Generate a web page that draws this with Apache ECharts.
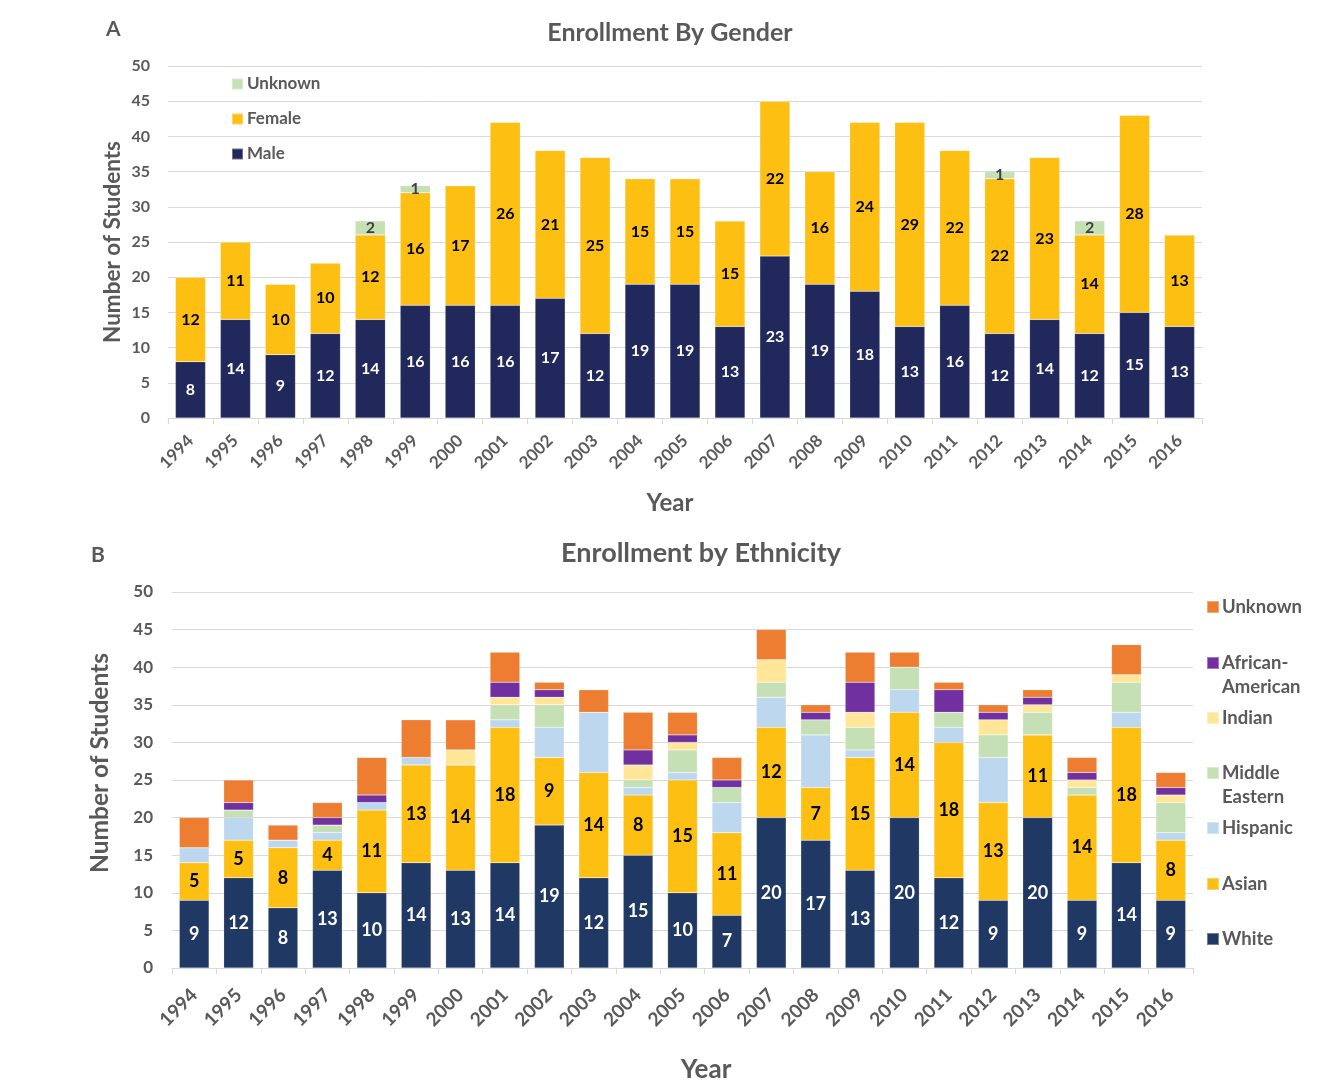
<!DOCTYPE html>
<html>
<head>
<meta charset="utf-8">
<script src="https://cdn.jsdelivr.net/npm/echarts@6/dist/echarts.min.js"></script>
<style>
html,body{margin:0;padding:0;background:#fff;}
#frame{position:absolute;left:7px;top:6px;width:1320px;height:1090px;border-left:2px solid #111;border-top:2px solid #111;}
#chart{position:absolute;left:0;top:0;width:1318px;height:1085px;}
</style>
</head>
<body>
<div id="frame"></div>
<div id="chart"></div>
<script>
// ---------- data ----------
const years = ['1994','1995','1996','1997','1998','1999','2000','2001','2002','2003','2004','2005','2006','2007','2008','2009','2010','2011','2012','2013','2014','2015','2016'];
const yTicks = [0,5,10,15,20,25,30,35,40,45,50];

// Chart A: gender
const male    = [8,14,9,12,14,16,16,16,17,12,19,19,13,23,19,18,13,16,12,14,12,15,13];
const female  = [12,11,10,10,12,16,17,26,21,25,15,15,15,22,16,24,29,22,22,23,14,28,13];
const unknownA= [0,0,0,0,2,1,0,0,0,0,0,0,0,0,0,0,0,0,1,0,2,0,0];

// Chart B: ethnicity
const white    = [9,12,8,13,10,14,13,14,19,12,15,10,7,20,17,13,20,12,9,20,9,14,9];
const asian    = [5,5,8,4,11,13,14,18,9,14,8,15,11,12,7,15,14,18,13,11,14,18,8];
const hispanic = [2,3,1,1,1,1,0,1,4,8,1,1,4,4,7,1,3,2,6,0,0,2,1];
const middleEastern = [0,1,0,1,0,0,0,2,3,0,1,3,2,2,2,3,3,2,3,3,1,4,4];
const indian   = [0,0,0,0,0,0,2,1,1,0,2,1,0,3,0,2,0,0,2,1,1,1,1];
const africanAmerican = [0,1,0,1,1,0,0,2,1,0,2,1,1,0,1,4,0,3,1,1,1,0,1];
const unknownB = [4,3,2,2,5,5,4,4,1,3,5,3,3,4,1,4,2,1,1,1,2,4,2];

// ---------- styling ----------
const FONT = 'Lato, "Open Sans", sans-serif';
const GRAY = '#595959';
const GRID_LINE = '#D9D9D9';

const hideZero = p => (p.value ? String(p.value) : '');

function barSeries(name, data, color, stack, xi, labelColor, labelSize, showLabel) {
  return {
    name: name, type: 'bar', stack: stack, data: data,
    xAxisIndex: xi, yAxisIndex: xi,
    barCategoryGap: '33%',
    itemStyle: { color: color, borderColor: 'rgba(255,255,255,0.35)', borderWidth: 0.5 },
    label: {
      show: showLabel, position: 'inside', formatter: hideZero,
      color: labelColor, fontFamily: FONT, fontWeight: 'bold', fontSize: labelSize
    },
    emphasis: { disabled: true }
  };
}

function xAxisDef(gi, fontSize, margin, nameGap, nameSize, namePad) {
  return {
    type: 'category', gridIndex: gi, data: years,
    axisLine: { show: true, lineStyle: { color: GRID_LINE, width: 1 } },
    axisTick: { show: true, length: 6, lineStyle: { color: GRID_LINE } },
    axisLabel: { rotate: 45, color: GRAY, fontFamily: FONT, fontWeight: 'bold', fontSize: fontSize, margin: margin },
    name: 'Year', nameLocation: 'middle', nameGap: nameGap, nameMoveOverlap: false,
    nameTextStyle: { color: GRAY, fontFamily: FONT, fontWeight: 'bold', fontSize: nameSize, padding: namePad }
  };
}
function yAxisDef(gi, fontSize, margin, nameGap, nameSize, namePad) {
  return {
    type: 'value', gridIndex: gi, min: yTicks[0], max: yTicks[yTicks.length - 1], interval: yTicks[1] - yTicks[0],
    axisLine: { show: false }, axisTick: { show: false },
    splitLine: { lineStyle: { color: GRID_LINE, width: 1 } },
    axisLabel: { color: GRAY, fontFamily: FONT, fontWeight: 'bold', fontSize: fontSize, margin: margin },
    name: 'Number of Students', nameLocation: 'middle', nameGap: nameGap, nameRotate: 90, nameMoveOverlap: false,
    nameTextStyle: { color: GRAY, fontFamily: FONT, fontWeight: 'bold', fontSize: nameSize, padding: namePad }
  };
}

// Legend B: one legend per entry so that entries are evenly spaced like the original
const legendBItems = [
  { name: 'Unknown ', label: 'Unknown', y: 606 },
  { name: 'African-American', label: 'African-\nAmerican', y: 662 },
  { name: 'Indian', label: 'Indian', y: 717 },
  { name: 'Middle Eastern', label: 'Middle\nEastern', y: 772 },
  { name: 'Hispanic', label: 'Hispanic', y: 827 },
  { name: 'Asian', label: 'Asian', y: 883 },
  { name: 'White', label: 'White', y: 938 }
];
const LB_LINE = 24;
const legendB = legendBItems.map(it => {
  const twoLine = it.label.indexOf('\n') >= 0;
  // two-line entries: a blank first line keeps the icon level with the first text line
  const txt = twoLine ? ' \n' + it.label : it.label;
  return {
    orient: 'vertical', left: 1206, top: (twoLine ? it.y - LB_LINE * 1.5 : it.y - LB_LINE / 2) + 1, padding: 0,
    data: [it.name], icon: 'rect', itemWidth: 12, itemHeight: 12, selectedMode: false,
    formatter: () => txt,
    textStyle: { color: GRAY, fontFamily: FONT, fontWeight: 'bold', fontSize: 18.5, lineHeight: LB_LINE, padding: [0, 0, 0, -2] }
  };
});

const option = {
  animation: false,
  backgroundColor: '#fff',
  title: [
    { text: 'A', left: 106, top: 19, padding: 0, textStyle: { color: GRAY, fontFamily: FONT, fontWeight: 'bold', fontSize: 21 } },
    { text: 'Enrollment By Gender', left: 670, top: 20, padding: 0, textAlign: 'center', textStyle: { color: GRAY, fontFamily: FONT, fontWeight: 'bold', fontSize: 25 } },
    { text: 'B', left: 91, top: 545, padding: 0, textStyle: { color: GRAY, fontFamily: FONT, fontWeight: 'bold', fontSize: 21 } },
    { text: 'Enrollment by Ethnicity', left: 701, top: 540, padding: 0, textAlign: 'center', textStyle: { color: GRAY, fontFamily: FONT, fontWeight: 'bold', fontSize: 27 } }
  ],
  grid: [
    { left: 168, right: 116, top: 66, bottom: 667, outerBoundsMode: 'none', containLabel: false },
    { left: 172, right: 125, top: 592, bottom: 117, outerBoundsMode: 'none', containLabel: false }
  ],
  legend: [
    {
      orient: 'vertical', left: 231, top: 74, padding: 0,
      data: ['Unknown', 'Female', 'Male'],
      icon: 'rect', itemWidth: 11, itemHeight: 11, itemGap: 15,
      selectedMode: false,
      textStyle: { color: GRAY, fontFamily: FONT, fontWeight: 'bold', fontSize: 17, lineHeight: 20, padding: [0, 0, 0, -1] }
    }
  ].concat(legendB),
  xAxis: [ xAxisDef(0, 17, 20, 73, 24, [0, 30, 0, 0]), xAxisDef(1, 19, 24, 89, 26, [0, 0, 0, 47]) ],
  yAxis: [ yAxisDef(0, 16, 18, 44, 22.5, 0), yAxisDef(1, 17, 19, 59, 24.5, [0, 0, 0, 34]) ],
  series: [
    barSeries('Male', male, '#21285C', 'a', 0, '#fff', 16, true),
    barSeries('Female', female, '#FDBF11', 'a', 0, '#000', 16, true),
    barSeries('Unknown', unknownA, '#C5E0B4', 'a', 0, '#404040', 16, true),

    barSeries('White', white, '#203864', 'b', 1, '#fff', 18, true),
    barSeries('Asian', asian, '#FDBF11', 'b', 1, '#000', 18, true),
    barSeries('Hispanic', hispanic, '#BDD7EE', 'b', 1, '#000', 18, false),
    barSeries('Middle Eastern', middleEastern, '#C5E0B4', 'b', 1, '#000', 18, false),
    barSeries('Indian', indian, '#FFE699', 'b', 1, '#000', 18, false),
    barSeries('African-American', africanAmerican, '#7030A0', 'b', 1, '#000', 18, false),
    barSeries('Unknown ', unknownB, '#ED7D31', 'b', 1, '#000', 18, false)
  ]
};

const chart = echarts.init(document.getElementById('chart'), null, { renderer: 'canvas' });
chart.setOption(option);
</script>
</body>
</html>
